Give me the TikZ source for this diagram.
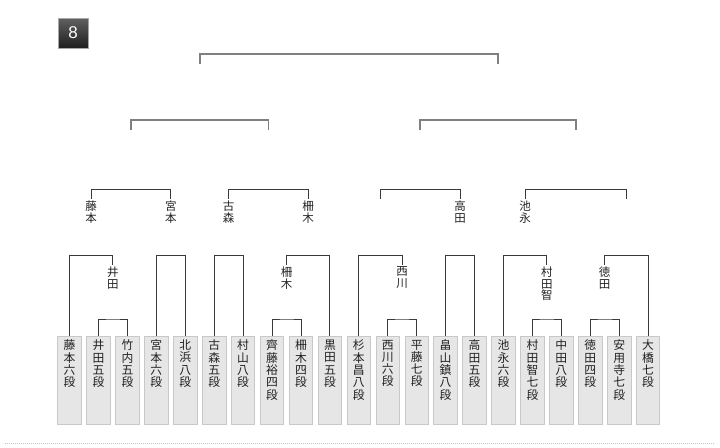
\documentclass[tikz,border=0pt]{standalone}
\usepackage{fontspec}
\setmainfont{Noto Sans CJK JP}
\newfontfamily\badgefont{Liberation Sans}
\usetikzlibrary{calc}
\definecolor{boxfill}{HTML}{E6E6E6}
\definecolor{boxline}{HTML}{C8C8C8}
\definecolor{lnc}{HTML}{3A3A3A}
\definecolor{topln}{HTML}{808080}
\definecolor{txtc}{HTML}{222222}
\newcommand\pbtxt[1]{\parbox[c][82pt][t]{22pt}{\centering\fontsize{11.8}{12.3}\selectfont\vspace*{0.5pt}#1}}
\begin{document}
\begin{tikzpicture}[x=1pt,y=-1pt,
  pbox/.style={draw=boxline, fill=boxfill, minimum width=23.5pt, minimum height=88pt, inner sep=0pt, anchor=north, line width=0.8pt, text=txtc},
  lab/.style={anchor=north, inner sep=1.5pt, align=center, font=\fontsize{11.5}{11.8}\selectfont, text=txtc},
  ln/.style={draw=lnc, line width=1pt},
  tln/.style={draw=topln, line width=1.6pt},
]
\useasboundingbox (0,0) rectangle (720,447);

% badge
\node[draw=gray!70, line width=0.5pt, minimum size=30pt, inner sep=0pt, top color=black!62, bottom color=black!88, text=white, font=\badgefont\fontsize{17}{17}\selectfont] (badge) at (73,33) {8};

% level coordinates
\coordinate (y1) at (0,319);
\coordinate (y2) at (0,255);
\coordinate (y2b) at (0,265);
\coordinate (y3) at (0,189);
\coordinate (y3b) at (0,199);
\coordinate (y4) at (0,120);
\coordinate (y4b) at (0,130);
\coordinate (y5) at (0,54);
\coordinate (y5b) at (0,64);

% players
\node[pbox] (p0) at (69.5,336) {\pbtxt{藤\\本\\六\\段}};
\node[pbox] (p1) at (98.4,336) {\pbtxt{井\\田\\五\\段}};
\node[pbox] (p2) at (127.4,336) {\pbtxt{竹\\内\\五\\段}};
\node[pbox] (p3) at (156.3,336) {\pbtxt{宮\\本\\六\\段}};
\node[pbox] (p4) at (185.2,336) {\pbtxt{北\\浜\\八\\段}};
\node[pbox] (p5) at (214.2,336) {\pbtxt{古\\森\\五\\段}};
\node[pbox] (p6) at (243.1,336) {\pbtxt{村\\山\\八\\段}};
\node[pbox] (p7) at (272.0,336) {\pbtxt{齊\\藤\\裕\\四\\段}};
\node[pbox] (p8) at (301.0,336) {\pbtxt{柵\\木\\四\\段}};
\node[pbox] (p9) at (329.9,336) {\pbtxt{黒\\田\\五\\段}};
\node[pbox] (p10) at (358.8,336) {\pbtxt{杉\\本\\昌\\八\\段}};
\node[pbox] (p11) at (387.7,336) {\pbtxt{西\\川\\六\\段}};
\node[pbox] (p12) at (416.7,336) {\pbtxt{平\\藤\\七\\段}};
\node[pbox] (p13) at (445.6,336) {\pbtxt{畠\\山\\鎮\\八\\段}};
\node[pbox] (p14) at (474.5,336) {\pbtxt{高\\田\\五\\段}};
\node[pbox] (p15) at (503.5,336) {\pbtxt{池\\永\\六\\段}};
\node[pbox] (p16) at (532.4,336) {\pbtxt{村\\田\\智\\七\\段}};
\node[pbox] (p17) at (561.3,336) {\pbtxt{中\\田\\八\\段}};
\node[pbox] (p18) at (590.2,336) {\pbtxt{徳\\田\\四\\段}};
\node[pbox] (p19) at (619.2,336) {\pbtxt{安\\用\\寺\\七\\段}};
\node[pbox] (p20) at (648.1,336) {\pbtxt{大\\橋\\七\\段}};

% round 1
\coordinate (m12) at ($(p1.north)!.5!(p2.north)$);
\coordinate (m78) at ($(p7.north)!.5!(p8.north)$);
\coordinate (m1112) at ($(p11.north)!.5!(p12.north)$);
\coordinate (m1617) at ($(p16.north)!.5!(p17.north)$);
\coordinate (m1819) at ($(p18.north)!.5!(p19.north)$);
\draw[ln] (p1.north) |- (m12 |- y1) -| (p2.north);
\draw[ln] (p7.north) |- (m78 |- y1) -| (p8.north);
\draw[ln] (p11.north) |- (m1112 |- y1) -| (p12.north);
\draw[ln] (p16.north) |- (m1617 |- y1) -| (p17.north);
\draw[ln] (p18.north) |- (m1819 |- y1) -| (p19.north);

% round 2 winners
\node[lab] (wIda) at (m12 |- y2b) {井\\田};
\node[lab] (wMaki) at (m78 |- y2b) {柵\\木};
\node[lab] (wNishi) at (m1112 |- y2b) {西\\川};
\node[lab] (wMura) at (m1617 |- y2b) {村\\田\\智};
\node[lab] (wToku) at (m1819 |- y2b) {徳\\田};

% round 2
\draw[ln] (p0.north) |- (wIda.north |- y2) -- (wIda.north);
\draw[ln] (p3.north) |- (p4.north |- y2) -- (p4.north);
\draw[ln] (p5.north) |- (p6.north |- y2) -- (p6.north);
\draw[ln] (wMaki.north) |- (p9.north |- y2) -- (p9.north);
\draw[ln] (p10.north) |- (wNishi.north |- y2) -- (wNishi.north);
\draw[ln] (p13.north) |- (p14.north |- y2) -- (p14.north);
\draw[ln] (p15.north) |- (wMura.north |- y2) -- (wMura.north);
\draw[ln] (wToku.north) |- (p20.north |- y2) -- (p20.north);

\coordinate (mA) at ($(p0.north)!.5!(m12)$);
\coordinate (mB) at ($(p3.north)!.5!(p4.north)$);
\coordinate (mC) at ($(p5.north)!.5!(p6.north)$);
\coordinate (mD) at ($(m78)!.5!(p9.north)$);
\coordinate (mE) at ($(p10.north)!.5!(m1112)$);
\coordinate (mF) at ($(p13.north)!.5!(p14.north)$);
\coordinate (mG) at ($(p15.north)!.5!(m1617)$);
\coordinate (mH) at ($(m1819)!.5!(p20.north)$);

% round 3 winners
\node[lab] (lFuji) at (mA |- y3b) {藤\\本};
\node[lab] (lMiya) at (mB |- y3b) {宮\\本};
\node[lab] (lFuru) at (mC |- y3b) {古\\森};
\node[lab] (lMaki) at (mD |- y3b) {柵\\木};
\coordinate (eE) at (mE |- y3b);
\node[lab] (lTaka) at (mF |- y3b) {高\\田};
\node[lab] (lIke) at (mG |- y3b) {池\\永};
\coordinate (eH) at (mH |- y3b);

% round 3
\draw[ln] (lFuji.north) |- (lMiya.north |- y3) -- (lMiya.north);
\draw[ln] (lFuru.north) |- (lMaki.north |- y3) -- (lMaki.north);
\draw[ln] (eE) |- (lTaka.north |- y3) -- (lTaka.north);
\draw[ln] (lIke.north) |- (eH |- y3) -- (eH);

% round 4
\coordinate (mAB) at ($(mA)!.5!(mB)$);
\coordinate (mCD) at ($(mC)!.5!(mD)$);
\coordinate (mEF) at ($(mE)!.5!(mF)$);
\coordinate (mGH) at ($(mG)!.5!(mH)$);
\coordinate (q1) at (mAB |- y4b);
\coordinate (q2) at (mCD |- y4b);
\coordinate (q3) at (mEF |- y4b);
\coordinate (q4) at (mGH |- y4b);
\draw[tln] (q1) |- (q2 |- y4) -- (q2);
\draw[tln] (q3) |- (q4 |- y4) -- (q4);

% final
\coordinate (mL) at ($(mAB)!.5!(mCD)$);
\coordinate (mR) at ($(mEF)!.5!(mGH)$);
\coordinate (r1) at (mL |- y5b);
\coordinate (r2) at (mR |- y5b);
\draw[tln] (r1) |- (r2 |- y5) -- (r2);

% bottom dotted rule
\coordinate (dl) at (5,443);
\coordinate (dr) at (715,443);
\draw[draw=gray!45, line width=0.6pt, dash pattern=on 1pt off 1pt] (dl) -- (dr);
\end{tikzpicture}
\end{document}
